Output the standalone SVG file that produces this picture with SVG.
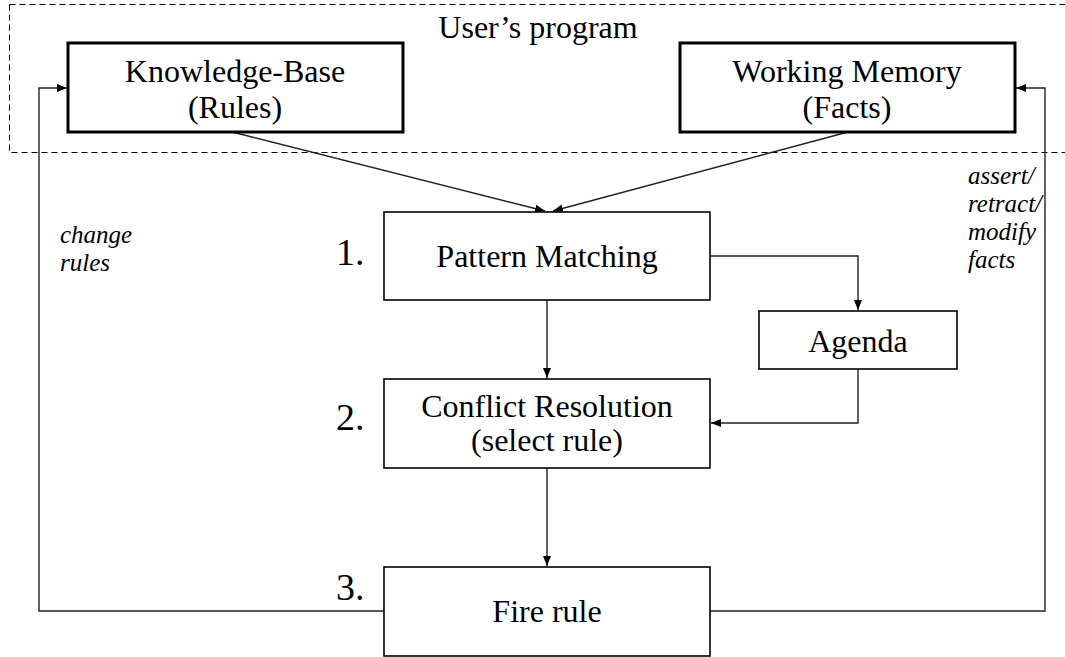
<svg xmlns="http://www.w3.org/2000/svg" width="1065" height="657" viewBox="0 0 1065 657">
<style>
.box{fill:#fff;stroke:#000;stroke-width:1.6}
.mbox{fill:#fff;stroke:#000;stroke-width:3}
.t{font-family:"Liberation Serif","Times New Roman",serif;font-size:32px;fill:#000;text-anchor:middle}
.n{font-family:"Liberation Serif","Times New Roman",serif;font-size:38px;fill:#000}
.i{font-family:"Liberation Serif","Times New Roman",serif;font-size:25px;font-style:italic;fill:#000}
.c{fill:none;stroke:#222;stroke-width:1.4}
</style>
<defs>
<marker id="ah" viewBox="0 0 10 10" refX="10" refY="5" markerWidth="10" markerHeight="10" markerUnits="userSpaceOnUse" orient="auto">
<path d="M0,1 L10,5 L0,9 z" fill="#000"/>
</marker>
</defs>
<rect x="0" y="0" width="1065" height="657" fill="#fff"/>
<g id="users-program">
<rect x="9.5" y="4.5" width="1070" height="148" fill="none" stroke="#000" stroke-width="1" stroke-dasharray="6,4"/>
<text class="t" x="538" y="38">User’s program</text>
</g>
<g id="connectors">
<path class="c" d="M232,132 L545,211" marker-end="url(#ah)"/>
<path class="c" d="M848,132 L553,211" marker-end="url(#ah)"/>
<path class="c" d="M710,256 L858,256 L858,310" marker-end="url(#ah)"/>
<path class="c" d="M547,300 L547,378" marker-end="url(#ah)"/>
<path class="c" d="M858,369 L858,423 L711,423" marker-end="url(#ah)"/>
<path class="c" d="M547,468 L547,566" marker-end="url(#ah)"/>
<path class="c" d="M384,611 L39,611 L39,88 L67,88" marker-end="url(#ah)"/>
<path class="c" d="M710,611 L1045,611 L1045,88 L1016,88" marker-end="url(#ah)"/>
</g>
<g id="knowledge-base">
<rect class="mbox" x="68" y="43" width="335" height="89"/>
<text class="t" x="235" y="82">Knowledge-Base</text>
<text class="t" x="235" y="118">(Rules)</text>
</g>
<g id="working-memory">
<rect class="mbox" x="680" y="43" width="335" height="89"/>
<text class="t" x="847" y="82">Working Memory</text>
<text class="t" x="847" y="118">(Facts)</text>
</g>
<g id="pattern-matching">
<rect class="box" x="384" y="212" width="326" height="88"/>
<text class="t" x="547" y="267">Pattern Matching</text>
<text class="n" x="336" y="265">1.</text>
</g>
<g id="agenda">
<rect class="box" x="759" y="311" width="198" height="58"/>
<text class="t" x="858" y="352">Agenda</text>
</g>
<g id="conflict-resolution">
<rect class="box" x="384" y="379" width="326" height="89"/>
<text class="t" x="547" y="417">Conflict Resolution</text>
<text class="t" x="547" y="451">(select rule)</text>
<text class="n" x="336" y="430">2.</text>
</g>
<g id="fire-rule">
<rect class="box" x="384" y="567" width="326" height="89"/>
<text class="t" x="547" y="622">Fire rule</text>
<text class="n" x="336" y="600">3.</text>
</g>
<g id="labels">
<text class="i" x="60" y="243">change</text>
<text class="i" x="60" y="271">rules</text>
<text class="i" x="968" y="184">assert/</text>
<text class="i" x="968" y="212">retract/</text>
<text class="i" x="968" y="240">modify</text>
<text class="i" x="968" y="268">facts</text>
</g>
</svg>
